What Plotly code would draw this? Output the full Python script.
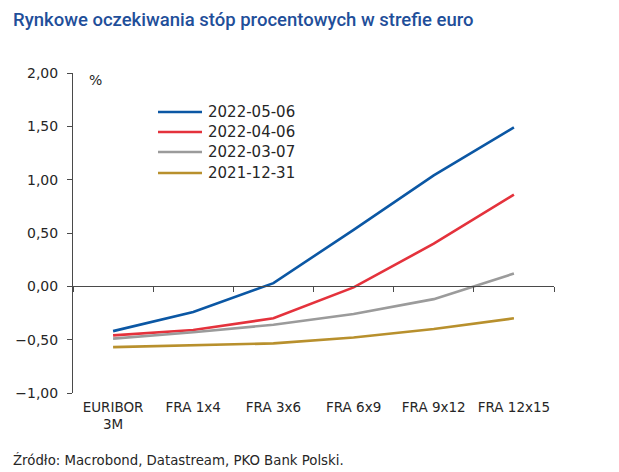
import plotly.graph_objects as go

categories = ["EURIBOR<br>3M", "FRA 1x4", "FRA 3x6", "FRA 6x9", "FRA 9x12", "FRA 12x15"]
series_names = ["2022-05-06", "2022-04-06", "2022-03-07", "2021-12-31"]
s_2022_05_06 = [-0.42, -0.24, 0.03, 0.53, 1.04, 1.49]
s_2022_04_06 = [-0.46, -0.41, -0.30, -0.01, 0.40, 0.86]
s_2022_03_07 = [-0.49, -0.43, -0.36, -0.26, -0.12, 0.12]
s_2021_12_31 = [-0.57, -0.555, -0.535, -0.48, -0.40, -0.30]
series_values = [s_2022_05_06, s_2022_04_06, s_2022_03_07, s_2021_12_31]
colors = ["#0b57a4", "#e4323c", "#9b9b9b", "#b8902d"]

W, H = 619, 472
L, R, T, B = 73, 65, 73, 79
PW, PH = W - L - R, H - T - B

def px_x(p):
    return (p - L) / PW

def px_y(p):
    return 1 - (p - T) / PH

TXT = "#262626"
FONT = "DejaVu Sans"

fig = go.Figure()
for name, vals, c in zip(series_names, series_values, colors):
    fig.add_trace(go.Scatter(x=categories, y=vals, mode="lines", name=name,
                             line=dict(color=c, width=2.6), showlegend=False))
# dummy trace for the boundary-tick axis drawn at y=0
fig.add_trace(go.Scatter(x=categories, y=[None] * len(categories), xaxis="x2",
                         showlegend=False, hoverinfo="skip"))

fig.update_layout(
    width=W, height=H,
    margin=dict(l=L, r=R, t=T, b=B),
    paper_bgcolor="white", plot_bgcolor="white",
    separators=", ",
    font=dict(family=FONT, color=TXT, size=14),
    xaxis=dict(type="category", categoryarray=categories, range=[-0.5, 5.5],
               showline=False, ticks="", showgrid=False, zeroline=False,
               tickfont=dict(size=13.5, color=TXT, family=FONT), ticklabelstandoff=4),
    xaxis2=dict(type="category", categoryarray=categories, overlaying="x", matches="x",
                anchor="free", position=1/3, showline=True, linecolor="#4a4a4a", linewidth=1,
                ticks="outside", ticklen=5, tickcolor="#4a4a4a", tickson="boundaries",
                showticklabels=False, showgrid=False, zeroline=False),
    yaxis=dict(range=[-1, 2], dtick=0.5, tickformat=".2f", showline=True,
               linecolor="#4a4a4a", linewidth=1, ticks="outside", ticklen=5,
               tickcolor="#4a4a4a", showgrid=False, zeroline=False,
               tickfont=dict(size=14, color=TXT, family=FONT), ticklabelstandoff=6),
)

annotations = [
    dict(text="Rynkowe oczekiwania stóp procentowych w strefie euro", x=px_x(11), y=px_y(20),
         xref="paper", yref="paper", xanchor="left", yanchor="middle", showarrow=False,
         font=dict(family="Roboto", size=18.5, color="#1f4f9a", weight=500)),
    dict(text="%", x=px_x(95), y=px_y(80), xref="paper", yref="paper", xanchor="center",
         yanchor="middle", showarrow=False, font=dict(size=14, color=TXT, family=FONT)),
    dict(text="Źródło: Macrobond, Datastream, PKO Bank Polski.", x=px_x(11), y=px_y(460),
         xref="paper", yref="paper", xanchor="left", yanchor="middle", showarrow=False,
         font=dict(size=13.3, color=TXT, family=FONT)),
]
shapes = []
leg_rows = [112, 132, 152, 173]
for name, c, ry in zip(series_names, colors, leg_rows):
    shapes.append(dict(type="line", xref="paper", yref="paper", x0=px_x(158), x1=px_x(202),
                       y0=px_y(ry), y1=px_y(ry), line=dict(color=c, width=2.6)))
    annotations.append(dict(text=name, x=px_x(206), y=px_y(ry), xref="paper", yref="paper",
                            xanchor="left", yanchor="middle", showarrow=False,
                            font=dict(size=15, color=TXT, family=FONT)))
fig.update_layout(annotations=annotations, shapes=shapes)

fig.write_html("out.html", config={"displayModeBar": False},
               post_script="document.body.style.margin='0';")
